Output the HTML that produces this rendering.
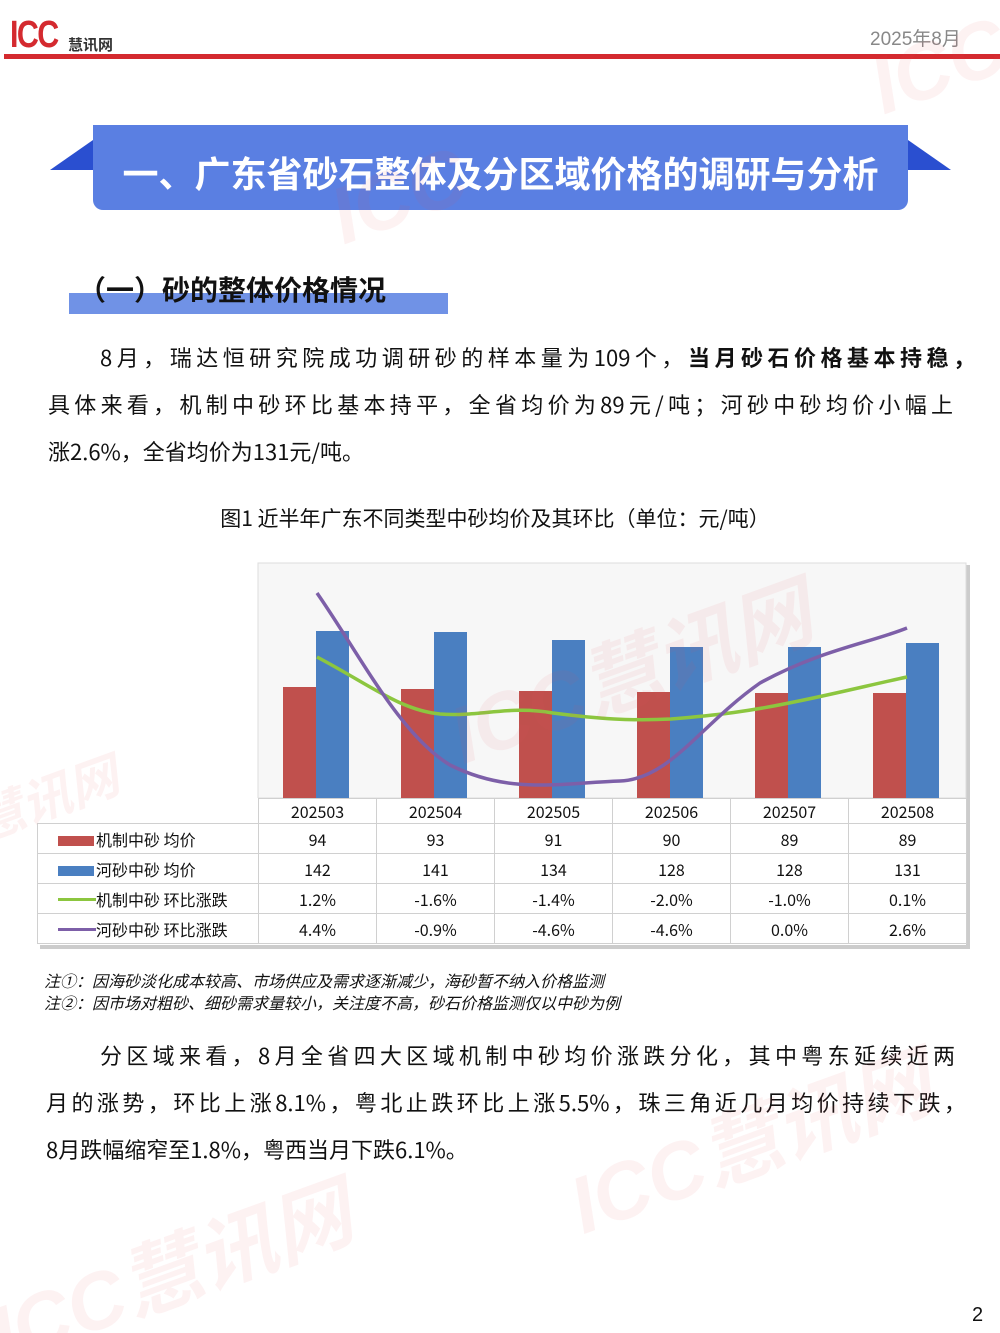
<!DOCTYPE html>
<html><head><meta charset="utf-8"><style>
body{margin:0;background:#fff;}
.pg{position:relative;width:1000px;height:1333px;overflow:hidden;font-family:"Liberation Sans","Noto Sans CJK SC",sans-serif;color:#111;}
.abs{position:absolute;white-space:nowrap;}
.ln{position:absolute;font-family:"Noto Sans CJK SC",sans-serif;font-size:22px;line-height:30px;text-align:justify;text-align-last:justify;white-space:nowrap;}
.wm{position:absolute;color:#e8505b;opacity:.07;font-weight:bold;font-style:italic;transform:rotate(-20deg);white-space:nowrap;}
td{border:1px solid #d0d0d0;padding:0;}
table{font-family:"Noto Sans CJK SC",sans-serif;}
</style></head><body><div class="pg">
<div class="abs" style="left:10px;top:14px;font-size:38px;font-weight:bold;color:#d42a2f;letter-spacing:-2px;transform:scaleX(.8);transform-origin:left;">ICC</div>
<div class="abs" style="left:68px;top:34px;font-size:15px;font-weight:bold;color:#333;">慧讯网</div>
<div class="abs" style="left:870px;top:24px;font-size:19px;color:#888;">2025年8月</div>
<div class="abs" style="left:4px;top:54px;width:996px;height:5px;background:#d42a2f;"></div>

<div class="abs" style="left:50px;top:140px;width:0;height:0;border-right:43px solid #2a4fd0;border-top:30px solid transparent;"></div>
<div class="abs" style="left:908px;top:140px;width:0;height:0;border-left:43px solid #2a4fd0;border-top:30px solid transparent;"></div>
<div class="abs" style="left:93px;top:125px;width:815px;height:85px;background:#5a7fe2;border-radius:0 0 10px 10px;"></div>
<div class="abs" style="left:93px;top:148px;width:815px;text-align:center;font-size:36px;font-weight:bold;color:#fff;font-family:'Noto Sans CJK SC',sans-serif;line-height:48px;">一、广东省砂石整体及分区域价格的调研与分析</div>

<div class="abs" style="left:69px;top:293px;width:379px;height:21px;background:#7092e6;"></div>
<div class="abs" style="left:78px;top:270px;font-size:28px;font-weight:bold;font-family:'Noto Sans CJK SC',sans-serif;line-height:38px;">（一）砂的整体价格情况</div>

<div class="ln" style="left:100px;top:342px;width:875px;">8月，瑞达恒研究院成功调研砂的样本量为109个，<b>当月砂石价格基本持稳，</b></div>
<div class="ln" style="left:48px;top:389px;width:905px;">具体来看，机制中砂环比基本持平，全省均价为89元/吨；河砂中砂均价小幅上</div>
<div class="ln" style="left:48px;top:436px;text-align-last:auto;">涨2.6%，全省均价为131元/吨。</div>

<div class="abs" style="left:0;top:503px;width:990px;text-align:center;font-size:21px;font-family:'Noto Sans CJK SC',sans-serif;line-height:30px;">图1 近半年广东不同类型中砂均价及其环比（单位：元/吨）</div>

<svg class="abs" style="left:0;top:555px;" width="1000" height="400">
<rect x="40" y="390" width="930" height="4" fill="#ccc"/>
<rect x="966" y="10" width="4" height="382" fill="#ccc"/>
<rect x="258" y="8" width="708" height="235" fill="#f7f7f7" stroke="#ddd"/>
<g fill="#c0504d">
<rect x="283" y="132" width="33" height="111"/><rect x="401" y="134" width="33" height="109"/><rect x="519" y="136" width="33" height="107"/><rect x="637" y="137" width="33" height="106"/><rect x="755" y="138" width="33" height="105"/><rect x="873" y="138" width="33" height="105"/>
</g>
<g fill="#4a7fc1">
<rect x="316" y="76" width="33" height="167"/><rect x="434" y="77" width="33" height="166"/><rect x="552" y="85" width="33" height="158"/><rect x="670" y="92" width="33" height="151"/><rect x="788" y="92" width="33" height="151"/><rect x="906" y="88" width="33" height="155"/>
</g>
<path d="M317,102 C370,130 400,155 440,159 C480,162 510,150 553,158 C600,164 630,166 671,164 C720,160 750,156 789,148 C830,140 870,130 907,122" fill="none" stroke="#8cc63f" stroke-width="3.5"/>
<path d="M317,38 C360,100 400,180 450,210 C510,240 560,228 620,226 C670,224 700,170 760,128 C820,95 870,88 907,73" fill="none" stroke="#7d5fa8" stroke-width="3.5"/>
</svg>
<table class="abs" style="left:37px;top:798px;border-collapse:collapse;font-size:16px;background:#fff;table-layout:fixed;width:929px;">
<colgroup><col style="width:221px"><col style="width:118px"><col style="width:118px"><col style="width:118px"><col style="width:118px"><col style="width:118px"><col style="width:118px"></colgroup>
<tr style="height:25px;text-align:center"><td style="border:none;border-right:1px solid #d0d0d0"></td><td>202503</td><td>202504</td><td>202505</td><td>202506</td><td>202507</td><td>202508</td></tr>
<tr style="height:30px;text-align:center"><td style="text-align:left"><span style="display:inline-block;width:36px;height:10px;background:#c0504d;margin:0 2px 0 20px"></span>机制中砂 均价</td><td>94</td><td>93</td><td>91</td><td>90</td><td>89</td><td>89</td></tr>
<tr style="height:30px;text-align:center"><td style="text-align:left"><span style="display:inline-block;width:36px;height:10px;background:#4a7fc1;margin:0 2px 0 20px"></span>河砂中砂 均价</td><td>142</td><td>141</td><td>134</td><td>128</td><td>128</td><td>131</td></tr>
<tr style="height:30px;text-align:center"><td style="text-align:left"><span style="display:inline-block;width:38px;height:3px;background:#8cc63f;margin:0 0 5px 20px"></span>机制中砂 环比涨跌</td><td>1.2%</td><td>-1.6%</td><td>-1.4%</td><td>-2.0%</td><td>-1.0%</td><td>0.1%</td></tr>
<tr style="height:30px;text-align:center"><td style="text-align:left"><span style="display:inline-block;width:38px;height:3px;background:#7d5fa8;margin:0 0 5px 20px"></span>河砂中砂 环比涨跌</td><td>4.4%</td><td>-0.9%</td><td>-4.6%</td><td>-4.6%</td><td>0.0%</td><td>2.6%</td></tr>
</table>

<div class="abs" style="left:44px;top:969px;font-size:16px;font-style:italic;line-height:22px;font-family:'Noto Sans CJK SC',sans-serif;">注①：因海砂淡化成本较高、市场供应及需求逐渐减少，海砂暂不纳入价格监测<br>注②：因市场对粗砂、细砂需求量较小，关注度不高，砂石价格监测仅以中砂为例</div>

<div class="ln" style="left:100px;top:1040px;width:855px;">分区域来看，8月全省四大区域机制中砂均价涨跌分化，其中粤东延续近两</div>
<div class="ln" style="left:46px;top:1087px;width:920px;">月的涨势，环比上涨8.1%，粤北止跌环比上涨5.5%，珠三角近几月均价持续下跌，</div>
<div class="ln" style="left:46px;top:1134px;text-align-last:auto;">8月跌幅缩窄至1.8%，粤西当月下跌6.1%。</div>

<div class="abs" style="left:972px;top:1304px;font-size:20px;">2</div>

<div class="wm" style="left:330px;top:150px;font-size:80px;">ICC</div>
<div class="wm" style="left:440px;top:610px;font-size:80px;">ICC慧讯网</div>
<div class="wm" style="left:560px;top:1080px;font-size:80px;">ICC慧讯网</div>
<div class="wm" style="left:-20px;top:1210px;font-size:80px;">ICC慧讯网</div>
<div class="wm" style="left:-30px;top:760px;font-size:50px;">慧讯网</div>
<div class="wm" style="left:870px;top:20px;font-size:80px;">ICC</div>
</div></body></html>
